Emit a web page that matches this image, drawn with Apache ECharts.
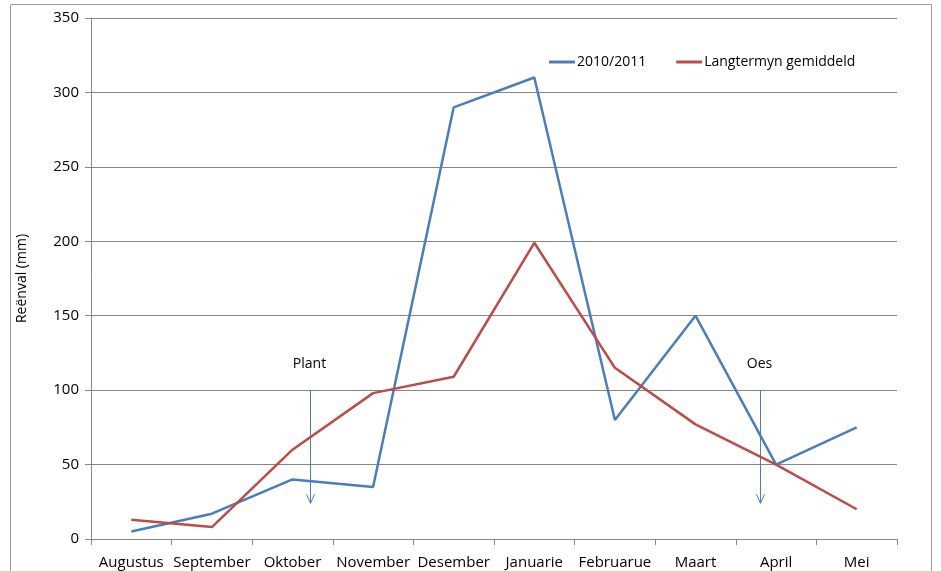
<html>
<head>
    <meta charset="UTF-8">
    <title>Reënval</title>
    <script src="https://cdn.jsdelivr.net/npm/echarts@6/dist/echarts.min.js"></script>
    <style>
        body { margin: 0; background: #fff; }
    </style>
</head>

<body>
    <div id="container" style="width: 941px;height:571px;"></div>
</body>

<script>
    var months = ['Augustus', 'September', 'Oktober', 'November', 'Desember', 'Januarie', 'Februarue', 'Maart', 'April', 'Mei'];
    var season = [5, 17, 40, 35, 290, 310, 80, 150, 50, 75];
    var longTerm = [13, 8, 60, 98, 109, 199, 115, 77, 50, 20];
    var seriesNames = ['2010/2011', 'Langtermyn gemiddeld'];

    var mycharts = echarts.init(document.getElementById('container'));
    var font = 'Open Sans';
    var grey = '#868686';

    var option = {
        animation: false,
        textStyle: { fontFamily: font },
        grid: { left: 91, top: 18, right: 44, bottom: 32, containLabel: false },
        legend: {
            left: 544, top: 50,
            icon: 'rect', itemWidth: 26, itemHeight: 3, itemGap: 30,
            textStyle: { fontFamily: font, fontSize: 14, color: '#000', padding: [0, 0, 0, -3] },
            data: seriesNames
        },
        xAxis: {
            type: 'category',
            data: months,
            boundaryGap: true,
            axisLine: { lineStyle: { color: grey } },
            axisTick: { show: true, length: 6, lineStyle: { color: grey } },
            axisLabel: { color: '#000', fontSize: 15, margin: 16, interval: 0 }
        },
        yAxis: {
            type: 'value',
            min: 0, max: 350, interval: 50,
            name: 'Reënval (mm)',
            nameLocation: 'middle',
            nameGap: 62,
            nameTextStyle: { fontFamily: font, fontSize: 14, color: '#000' },
            axisLine: { show: true, lineStyle: { color: grey } },
            axisTick: { show: true, length: 6, lineStyle: { color: grey } },
            axisLabel: { color: '#000', fontSize: 15, margin: 12 },
            splitLine: { lineStyle: { color: grey, width: 1 } }
        },
        series: [
            {
                name: seriesNames[0], type: 'line', data: season,
                symbol: 'none', color: '#4a7ebb',
                lineStyle: { width: 2.5, color: '#4a7ebb' }
            },
            {
                name: seriesNames[1], type: 'line', data: longTerm,
                symbol: 'none', color: '#be4b48',
                lineStyle: { width: 2.5, color: '#be4b48' }
            }
        ]
    };
    mycharts.setOption(option);

    // pylle en byskrifte vir plant en oes
    var top100 = mycharts.convertToPixel({ yAxisIndex: 0 }, 100);
    var bottom = mycharts.convertToPixel({ yAxisIndex: 0 }, 24);
    function arrow(x, label) {
        return [
            { type: 'line', shape: { x1: x, y1: top100, x2: x, y2: bottom }, style: { stroke: '#4a7ebb', lineWidth: 1 } },
            { type: 'polyline', shape: { points: [[x - 4, bottom - 9], [x, bottom], [x + 4, bottom - 9]] }, style: { stroke: '#4a7ebb', lineWidth: 1, fill: null } },
            { type: 'text', x: x - 1, y: top100 - 26, style: { text: label, fontFamily: font, fontSize: 14, fill: '#000', align: 'center', verticalAlign: 'middle' } }
        ];
    }
    var elements = [
        { type: 'rect', shape: { x: 10.5, y: 4.5, width: 921, height: 600 }, style: { stroke: '#9a9a9a', lineWidth: 1, fill: null }, z: -1 }
    ].concat(arrow(310.5, 'Plant'), arrow(760.5, 'Oes'));
    mycharts.setOption({ graphic: { elements: elements } });
</script>
</html>
